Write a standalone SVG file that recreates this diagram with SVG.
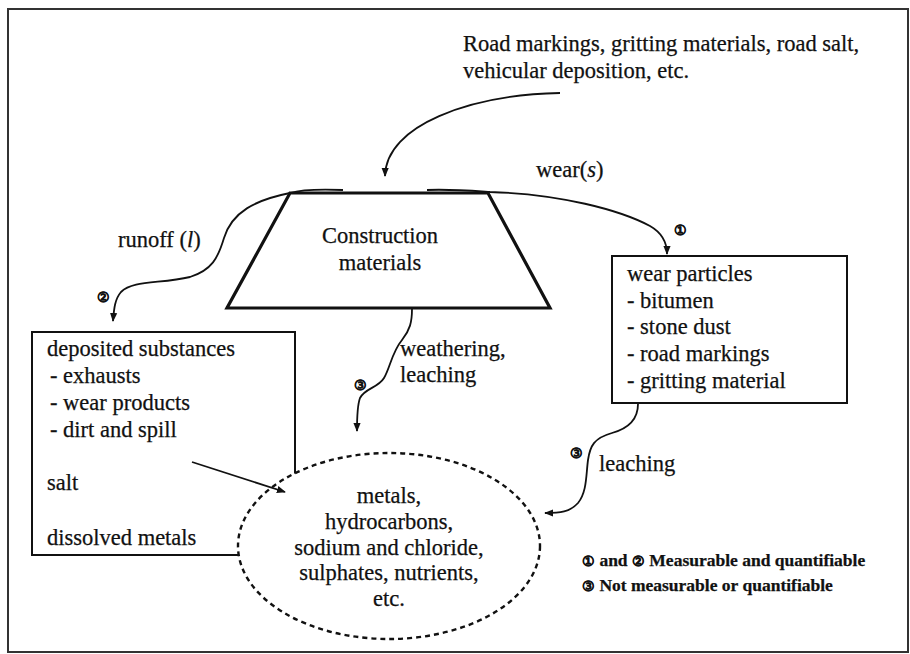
<svg xmlns="http://www.w3.org/2000/svg" width="910" height="654" viewBox="0 0 910 654" font-family="'Liberation Serif', 'DejaVu Serif', 'Times New Roman', serif">
<defs>
<marker id="ah" viewBox="0 0 10 10" refX="9" refY="5" markerWidth="9" markerHeight="9" markerUnits="userSpaceOnUse" orient="auto">
<path d="M0,1 L10,5 L0,9 Z" fill="#111"/>
</marker>
</defs>
<style>
text{font-family:'Liberation Serif','DejaVu Serif',serif;fill:#111;font-size:22.5px;stroke:#111;stroke-width:0.25}
.c{text-anchor:middle}
.num{font-family:'DejaVu Serif','Liberation Serif',serif;font-size:14px;font-weight:bold}
.leg{font-size:17.5px;font-weight:bold}
.box{fill:#fff;stroke:#111;stroke-width:2}
.conn path{fill:none;stroke:#111;stroke-width:1.8}
</style>
<rect x="8" y="9" width="900" height="643" fill="#fff" stroke="#333" stroke-width="2"/>

<g id="source">
<text x="463" y="51">Road markings, gritting materials, road salt,</text>
<text x="463" y="78">vehicular deposition, etc.</text>
</g>

<g id="construction">
<polygon points="290,193 488,193 550,308 227,308" fill="#fff" stroke="#111" stroke-width="3.2" stroke-linejoin="miter"/>
<text class="c" x="380" y="243">Construction</text>
<text class="c" x="380" y="270">materials</text>
</g>

<g id="deposited">
<rect class="box" x="32" y="332" width="263" height="223"/>
<text x="47" y="356">deposited substances</text>
<text x="50" y="383">- exhausts</text>
<text x="50" y="410">- wear products</text>
<text x="50" y="437">- dirt and spill</text>
<text x="47" y="490">salt</text>
<text x="47" y="545">dissolved metals</text>
</g>

<g id="wearparticles">
<rect class="box" x="612" y="256" width="235" height="147"/>
<text x="627" y="281">wear particles</text>
<text x="627" y="308">- bitumen</text>
<text x="627" y="334">- stone dust</text>
<text x="627" y="361">- road markings</text>
<text x="627" y="388">- gritting material</text>
</g>

<g id="pollutants">
<ellipse cx="389" cy="546" rx="151" ry="93" fill="#fff" stroke="#111" stroke-width="2.4" stroke-dasharray="5,4"/>
<text class="c" x="389" y="503">metals,</text>
<text class="c" x="389" y="529">hydrocarbons,</text>
<text class="c" x="389" y="555">sodium and chloride,</text>
<text class="c" x="389" y="580">sulphates, nutrients,</text>
<text class="c" x="389" y="606">etc.</text>
</g>

<g class="conn" id="connectors">
<path d="M560,93 C470,95 386,125 385,176" marker-end="url(#ah)"/>
<path d="M343,190 C318,189 300,190 290,193 C255,200 232,212 224,238 C218,258 212,270 190,277 C160,284 133,280 121,292 C115,299 114,308 113,321" marker-end="url(#ah)"/>
<path d="M427,190 C450,189 475,191 490,192 C560,194 620,210 650,226 C664,234 667,244 667,254" marker-end="url(#ah)"/>
<path d="M412,309 C412,322 410,330 402,340 C392,352 390,368 384,378 C378,388 365,388 360,398 C357,406 357,418 357,431" marker-end="url(#ah)"/>
<path d="M638,404 C638,418 630,428 612,433 C594,438 590,446 588,460 C586,475 587,492 578,503 C570,512 560,513 545,513" marker-end="url(#ah)"/>
<path d="M192,462 L285,492" marker-end="url(#ah)"/>
</g>

<g id="labels">
<text x="118" y="247">runoff (<tspan font-style="italic">l</tspan>)</text>
<text x="536" y="177">wear(<tspan font-style="italic">s</tspan>)</text>
<text x="400" y="356">weathering,</text>
<text x="400" y="382">leaching</text>
<text x="599" y="471">leaching</text>
<text class="num c" x="680" y="235">①</text>
<text class="num c" x="103" y="302">②</text>
<text class="num c" x="360" y="390">③</text>
<text class="num c" x="576" y="458">③</text>
</g>

<g id="legend">
<text class="leg" x="582" y="566"><tspan class="num">①</tspan> and  <tspan class="num">②</tspan> Measurable and quantifiable</text>
<text class="leg" x="582" y="591"><tspan class="num">③</tspan>  Not measurable or quantifiable</text>
</g>
</svg>
